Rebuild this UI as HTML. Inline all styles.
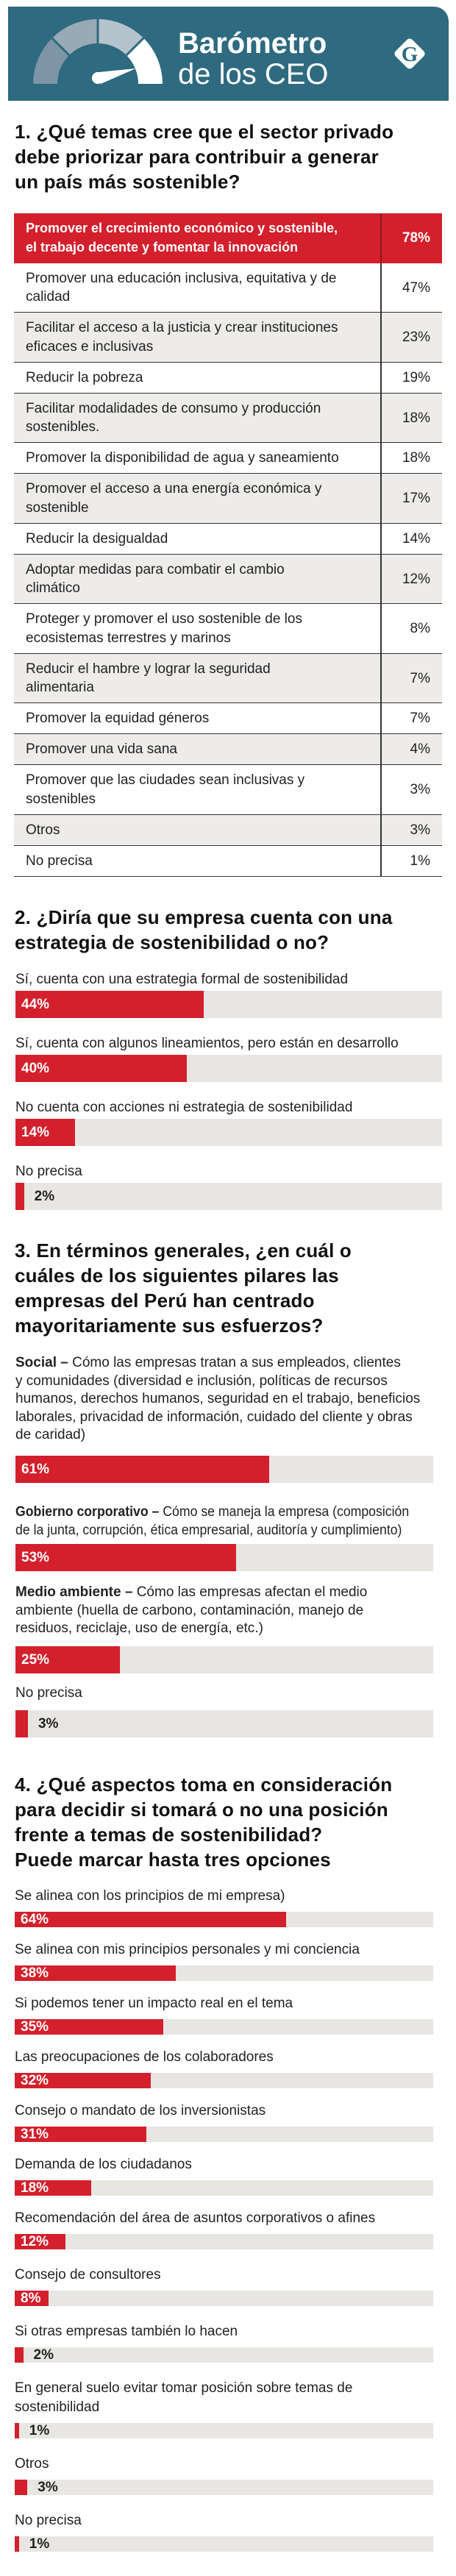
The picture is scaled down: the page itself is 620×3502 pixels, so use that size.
<!DOCTYPE html>
<html lang="es">
<head>
<meta charset="utf-8">
<style>
  html,body{margin:0;padding:0;background:#fff;}
  body{width:620px;height:3502px;position:relative;overflow:hidden;font-family:"Liberation Sans",sans-serif;color:#222;}
  .abs{position:absolute;}
  .title{position:absolute;left:20px;font-weight:bold;font-size:26px;line-height:34px;color:#111;white-space:nowrap;letter-spacing:0.2px;}
  .lbl{position:absolute;font-size:19px;line-height:26px;white-space:nowrap;color:#222;}
  .track{position:absolute;background:#e8e6e2;}
  .bar{position:absolute;background:#d3202c;}
  .val{position:absolute;font-weight:bold;font-size:19px;white-space:nowrap;}
  .row{position:absolute;left:19px;width:582px;box-sizing:border-box;border-bottom:1.5px solid #333;}
  .row .txt{position:absolute;left:16px;font-size:19px;line-height:25.5px;white-space:pre-line;}
  .row .pct{position:absolute;right:16px;font-size:19px;}
  .row .div{position:absolute;left:498px;top:0;bottom:0;width:1.5px;background:#333;}
  .para{position:absolute;left:21px;font-size:19px;line-height:24.5px;white-space:nowrap;}
</style>
</head>
<body>

<div class="abs" style="left:11px;top:9px;width:599px;height:128px;background:#2e6a80;border-top-right-radius:20px;">
  <svg width="599" height="128" style="position:absolute;left:0;top:0">
    <g transform="translate(122,105)">
      <path d="M-88,0 A88,88 0 0 1 -62.2,-62.2 L-38.9,-38.9 A55,55 0 0 0 -55,0 Z" fill="#7d95a4"/>
      <path d="M-62.2,-62.2 A88,88 0 0 1 0,-88 L0,-55 A55,55 0 0 0 -38.9,-38.9 Z" fill="#97aab6"/>
      <path d="M0,-88 A88,88 0 0 1 62.2,-62.2 L38.9,-38.9 A55,55 0 0 0 0,-55 Z" fill="#b5c3cc"/>
      <path d="M62.2,-62.2 A88,88 0 0 1 88,0 L55,0 A55,55 0 0 0 38.9,-38.9 Z" fill="#ffffff"/>
      <line x1="-62.2" y1="-62.2" x2="-38.9" y2="-38.9" stroke="#2e6a80" stroke-width="3"/>
      <line x1="0" y1="-88" x2="0" y2="-55" stroke="#2e6a80" stroke-width="3"/>
      <line x1="62.2" y1="-62.2" x2="38.9" y2="-38.9" stroke="#2e6a80" stroke-width="3"/>
      <circle cx="0" cy="-8" r="8" fill="#fff"/>
      <path d="M-3,-15.5 L52,-21 L4,0 Z" fill="#fff"/>
    </g>
    <g transform="translate(546,64)">
      <rect x="-16" y="-16" width="32" height="32" rx="5" transform="rotate(45)" fill="#fff"/>
      <text x="0" y="10" text-anchor="middle" font-family="Liberation Serif,serif" font-weight="bold" font-size="29" fill="#2e6a80">G</text>
    </g>
  </svg>
  <div class="abs" style="left:231px;top:30px;color:#fff;font-weight:bold;font-size:40px;line-height:40px;white-space:nowrap;">Barómetro</div>
  <div class="abs" style="left:231px;top:72px;color:#fff;font-size:40px;line-height:40px;white-space:nowrap;">de los CEO</div>
</div>

<div class="title" style="top:162px;">1. ¿Qué temas cree que el sector privado<br>debe priorizar para contribuir a generar<br>un país más sostenible?</div>
<div id="q1"></div>

<div class="title" style="top:1230px;">2. ¿Diría que su empresa cuenta con una<br>estrategia de sostenibilidad o no?</div>
<div id="q2"></div>

<div class="title" style="top:1683px;">3. En términos generales, ¿en cuál o<br>cuáles de los siguientes pilares las<br>empresas del Perú han centrado<br>mayoritariamente sus esfuerzos?</div>
<div class="para" style="top:1841px;"><b>Social –</b> Cómo las empresas tratan a sus empleados, clientes<br>y comunidades (diversidad e inclusión, políticas de recursos<br>humanos, derechos humanos, seguridad en el trabajo, beneficios<br>laborales, privacidad de información, cuidado del cliente y obras<br>de caridad)</div>
<div class="para" style="top:2044px;transform:scaleX(0.93);transform-origin:left;"><b>Gobierno corporativo –</b> Cómo se maneja la empresa (composición<br>de la junta, corrupción, ética empresarial, auditoría y cumplimiento)</div>
<div class="para" style="top:2153px;"><b>Medio ambiente –</b> Cómo las empresas afectan el medio<br>ambiente (huella de carbono, contaminación, manejo de<br>residuos, reciclaje, uso de energía, etc.)</div>
<div class="lbl" style="left:21px;top:2289px;">No precisa</div>
<div id="q3"></div>

<div class="title" style="top:2409px;">4. ¿Qué aspectos toma en consideración<br>para decidir si tomará o no una posición<br>frente a temas de sostenibilidad?<br>Puede marcar hasta tres opciones</div>
<div id="q4"></div>

<script>
// ---- Q1 data ----
const q1Labels = [
  "Promover el crecimiento económico y sostenible,\nel trabajo decente y fomentar la innovación",
  "Promover una educación inclusiva, equitativa y de\ncalidad",
  "Facilitar el acceso a la justicia y crear instituciones\neficaces e inclusivas",
  "Reducir la pobreza",
  "Facilitar modalidades de consumo y producción\nsostenibles.",
  "Promover la disponibilidad de agua y saneamiento",
  "Promover el acceso a una energía económica y\nsostenible",
  "Reducir la desigualdad",
  "Adoptar medidas para combatir el cambio\nclimático",
  "Proteger y promover el uso sostenible de los\necosistemas terrestres y marinos",
  "Reducir el hambre y lograr la seguridad\nalimentaria",
  "Promover la equidad géneros",
  "Promover una vida sana",
  "Promover que las ciudades sean inclusivas y\nsostenibles",
  "Otros",
  "No precisa"
];
const q1Values = [78, 47, 23, 19, 18, 18, 17, 14, 12, 8, 7, 7, 4, 3, 3, 1];

// ---- Q2 data ----
const q2Labels = [
  "Sí, cuenta con una estrategia formal de sostenibilidad",
  "Sí, cuenta con algunos lineamientos, pero están en desarrollo",
  "No cuenta con acciones ni estrategia de sostenibilidad",
  "No precisa"
];
const q2Values = [44, 40, 14, 2];

// ---- Q3 data ----
const q3Categories = ["social", "gobierno-corporativo", "medio-ambiente", "no-precisa"];
const q3Values = [61, 53, 25, 3];

// ---- Q4 data ----
const q4Labels = [
  "Se alinea con los principios de mi empresa)",
  "Se alinea con mis principios personales y mi conciencia",
  "Si podemos tener un impacto real en el tema",
  "Las preocupaciones de los colaboradores",
  "Consejo o mandato de los inversionistas",
  "Demanda de los ciudadanos",
  "Recomendación del área de asuntos corporativos o afines",
  "Consejo de consultores",
  "Si otras empresas también lo hacen",
  "En general suelo evitar tomar posición sobre temas de\nsostenibilidad",
  "Otros",
  "No precisa"
];
const q4Values = [64, 38, 35, 32, 31, 18, 12, 8, 2, 1, 3, 1];

function mk(parent, cls, css, text) {
  const el = document.createElement('div');
  if (cls) el.className = cls;
  el.style.cssText = css;
  if (text !== undefined) el.textContent = text;
  parent.appendChild(el);
  return el;
}

function drawBar(parent, x0, top, h, trackW, pxPerPct, v, idx, prefix) {
  const tr = mk(parent, 'track', `left:${x0}px;top:${top}px;width:${trackW}px;height:${h}px;`);
  
  
  const w = v * pxPerPct;
  const b = mk(parent, 'bar', `left:${x0}px;top:${top}px;width:${w}px;height:${h}px;`);
  
  
  const inside = w > 40;
  const tx = inside ? x0 + 8 : x0 + w + 14;
  const t = mk(parent, 'val', `left:${tx}px;top:${top}px;height:${h}px;line-height:${h}px;color:${inside ? '#fff' : '#222'};`, v + '%');
  
  
}

// Q1 table
(function () {
  const root = document.getElementById('q1');
  let y = 290;
  q1Labels.forEach((lab, i) => {
    const n = lab.split('\n').length;
    const h = 16.5 + 25.5 * n;
    const bg = i === 0 ? '#d3202c' : (i % 2 === 0 ? '#edecea' : '#ffffff');
    const row = mk(root, 'row', `top:${y}px;height:${h}px;background:${bg};` + (i === 0 ? 'border-bottom:none;' : ''));
    
    
    const col = i === 0 ? '#fff' : '#222';
    const fw = i === 0 ? 'bold' : 'normal';
    const t = mk(row, 'txt', `top:${(h - 25.5 * n) / 2}px;color:${col};font-weight:${fw};` + (i === 0 ? 'font-size:18px;' : ''), lab);
    
    
    const p = mk(row, 'pct', `top:0;line-height:${h}px;color:${col};font-weight:${fw};`, q1Values[i] + '%');
    
    
    const d = mk(row, 'div', i === 0 ? 'background:#8a1a20;' : '');
    
    
    y += h;
  });
})();

// Q2 bars
(function () {
  const root = document.getElementById('q2');
  let y = 1319;
  q2Labels.forEach((lab, i) => {
    const l = mk(root, 'lbl', `left:21px;top:${y}px;`, lab);
    
    
    drawBar(root, 21, y + 28, 37, 580, 5.82, q2Values[i], i + 1, 'q2');
    y += 87;
  });
})();

// Q3 bars (positions follow the paragraphs above)
(function () {
  const root = document.getElementById('q3');
  const q3Tops = [1979, 2099, 2238, 2325];
  q3Values.forEach((v, i) => {
    drawBar(root, 21, q3Tops[i], 37, 568, 5.66, v, q3Categories[i], 'q3');
  });
})();

// Q4 bars
(function () {
  const root = document.getElementById('q4');
  let y = 2565;
  q4Labels.forEach((lab, i) => {
    const n = lab.split('\n').length;
    const l = mk(root, 'lbl', `left:20px;top:${y}px;white-space:pre-line;`, lab);
    
    
    const bt = y + 26 * n + 8;
    drawBar(root, 20, bt, 21, 569, 5.77, q4Values[i], i + 1, 'q4');
    y = bt + 21 + 18 + (i >= 6 ? 4 : 0);
  });
})();
</script>
</body>
</html>
